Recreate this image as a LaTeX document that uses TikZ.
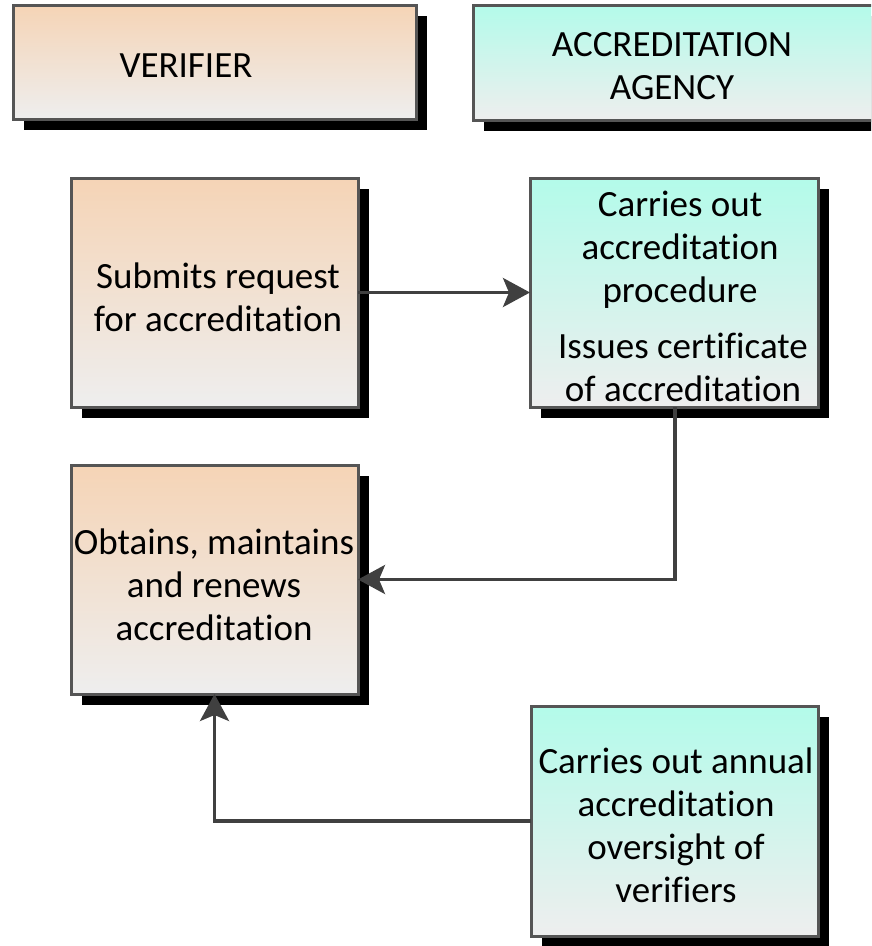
\documentclass[tikz,border=0pt]{standalone}
\usepackage{fontspec}
\setmainfont{Carlito}[Ligatures={NoCommon,NoRequired,NoContextual}, RawFeature={-calt;-dlig}]
\usetikzlibrary{arrows.meta,shadows}

\definecolor{peach}{HTML}{F5D4B6}
\definecolor{aqua}{HTML}{B3FBEA}
\definecolor{paleg}{HTML}{EEEEEE}
\definecolor{edge}{HTML}{555555}
\definecolor{wire}{HTML}{404040}

\tikzset{
  box/.style={draw=edge, line width=3pt, outer sep=0pt, inner sep=0pt,
    drop shadow={shadow xshift=11pt, shadow yshift=-11pt, fill=black, opacity=1}},
  vbox/.style={box, top color=peach, bottom color=paleg},
  abox/.style={box, top color=aqua, bottom color=paleg},
  lbl/.style={align=center, font=\fontsize{37}{43}\selectfont, inner sep=0pt},
  conn/.style={draw=wire, line width=3.5pt, line join=miter,
    -{Stealth[length=27pt, width=29pt, inset=6pt]}},
}

\begin{document}
\begin{tikzpicture}[x=1pt, y=-1pt]
  \useasboundingbox (0,0) rectangle (871,946);
  \clip (0,0) rectangle (871,946);

  % column headers
  \node[vbox, minimum width=403pt, minimum height=114pt] (ver) at (214.5,62) {};
  \node[abox, minimum width=401pt, minimum height=115pt] (agency) at (673.5,62.5) {};
  \node[lbl] (vertxt) at (186,66) {VERIFIER};
  \node[lbl] (agtxt) at (672,66) {ACCREDITATION\\AGENCY};

  % process steps
  \node[vbox, minimum width=287pt, minimum height=229pt] (submit) at (214.5,292.5) {};
  \node[abox, minimum width=288pt, minimum height=229pt] (carry) at (674,292.5) {};
  \node[vbox, minimum width=287pt, minimum height=229pt] (obtain) at (214.5,579.5) {};
  \node[abox, minimum width=287pt, minimum height=230pt] (annual) at (674.5,821) {};

  \node[lbl] (subtxt) at (218,297) {Submits request\\for accreditation};
  \node[lbl] (cartxt) at (680,250) {Carries out\\accreditation\\procedure};
  \node[lbl] (isstxt) at (683,367) {Issues certificate\\of accreditation};
  \node[lbl] (obttxt) at (214,585) {Obtains, maintains\\and renews\\accreditation};
  \node[lbl] (anntxt) at (676,825) {Carries out annual\\accreditation\\oversight of\\verifiers};

  % flow
  \draw[conn] (submit.east) -- (carry.west);
  \draw[conn] ([xshift=1pt]carry.south) |- (obtain.east);
  \draw[conn] (annual.west) -| (obtain.south);
\end{tikzpicture}
\end{document}
